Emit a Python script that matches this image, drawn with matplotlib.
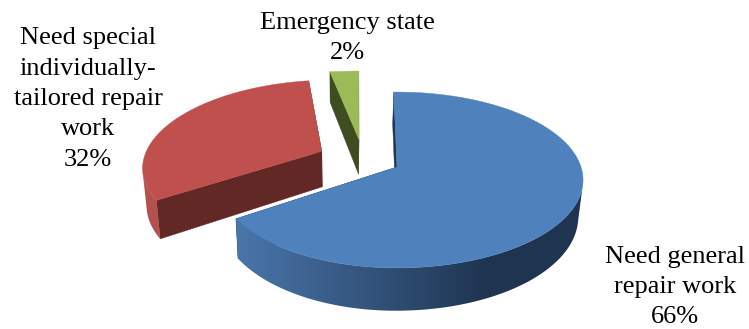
import matplotlib
matplotlib.use('Agg')
import matplotlib.pyplot as plt
from matplotlib.colors import to_rgb
from matplotlib.patches import Polygon
import numpy as np

categories = ['Need general\nrepair work', 'Need special\nindividually-\ntailored repair\nwork', 'Emergency state']
shares = [66, 32, 2]

top_colors = ['#4f81bd', '#c0504d', '#9bbb59']
cut_colors = ['#1f3550', '#622826', '#3f4c20']
side_left = ['#4a76ab', '#b4504d', '#3f4c20']
side_right = ['#1e3450', '#b4504d', '#3f4c20']
pulls = [(0, 0), (-0.42, 0.187), (-0.217, 0.336)]
squeeze = [0.965, 0.98, 1.5]
label_pos = [(675, 287), (88, 99), (347, 38)]

x0, y0 = 397, 167
rx, ry = 184, 86
persp = 0.1477
depth = 36.5
xv, shrink = 340, 0.98
start = -1.2


def project(X, Y, low=False):
    w = 1 + persp * Y
    sx = x0 + rx * X / w
    sy = y0 - ry * Y / w
    if low:
        sx = xv + shrink * (sx - xv)
        sy = sy + depth / w
    return sx, sy


fig = plt.figure(figsize=(7.49, 3.29), dpi=100)
ax = fig.add_axes([0, 0, 1, 1])
ax.set_xlim(0, 749)
ax.set_ylim(329, 0)
ax.axis('off')

edges = start + np.cumsum([0] + shares) * 3.6

# back slices first, the big one goes on top
for i in [2, 1, 0]:
    z = i * -3 + 7
    a = np.radians(np.linspace(edges[i], edges[i + 1], 200))
    dx, dy = pulls[i]
    s = np.sin(a)
    X = np.where(s < 0, s * squeeze[i], s) + dx
    Y = np.cos(a) + dy
    tx, ty = project(X, Y)
    bx, by = project(X, Y, low=True)
    ax_, ay_ = project(dx, dy)
    bax, bay = project(dx, dy, low=True)

    # cut faces
    for j in [0, -1]:
        ax.fill([tx[j], ax_, bax, bx[j]], [ty[j], ay_, bay, by[j]],
                color=cut_colors[i], lw=0.3, zorder=z)

    # outer wall, only the part that faces the viewer
    front = np.gradient(tx) * (by - ty) - np.gradient(ty) * (bx - tx) < 0
    if front.sum() > 1:
        f = np.clip((np.arange(749) - 236) / (490 - 236), 0, 1)[None, :, None]
        c1 = np.array(to_rgb(side_left[i]))
        c2 = np.array(to_rgb(side_right[i]))
        im = ax.imshow(c1 + (c2 - c1) * f, extent=(0, 749, 329, 0), aspect='auto', zorder=z)
        wall = Polygon(np.c_[np.r_[tx[front], bx[front][::-1]], np.r_[ty[front], by[front][::-1]]],
                       transform=ax.transData)
        im.set_clip_path(wall)

    ax.fill(np.r_[ax_, tx], np.r_[ay_, ty], color=top_colors[i], lw=0.3, zorder=z + 1)

ax.set_xlim(0, 749)
ax.set_ylim(329, 0)

for cat, val, pos in zip(categories, shares, label_pos):
    ax.text(pos[0], pos[1], f'{cat}\n{val}%', family='Liberation Serif', fontsize=19,
            ha='center', va='center', multialignment='center', linespacing=1.49, color='black')

plt.savefig('out.png', dpi=100)
